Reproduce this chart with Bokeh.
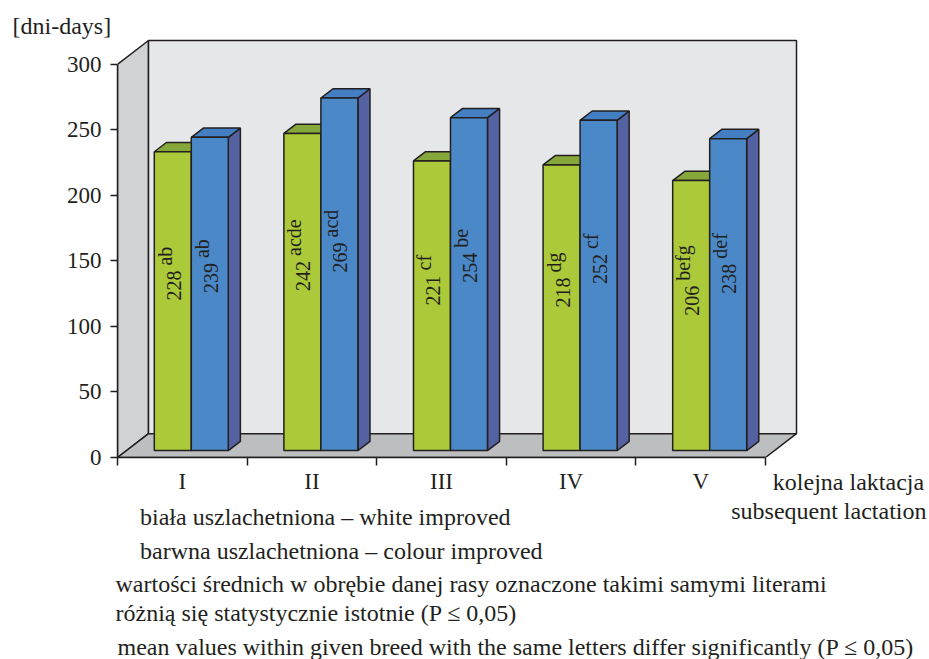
from math import pi
from bokeh.plotting import figure
from bokeh.layouts import column
from bokeh.models import (Range1d, LinearAxis, FixedTicker, ColumnDataSource, Label,
                          Legend, LegendItem)
from bokeh.embed import file_html
from bokeh.resources import INLINE
from bokeh.core.properties import value

# ---------------- data ----------------
lactations = ["I", "II", "III", "IV", "V"]
white_days = [228, 242, 221, 218, 206]
colour_days = [239, 269, 254, 252, 238]
white_letters = ["ab", "acde", "cf", "dg", "befg"]
colour_letters = ["ab", "acd", "be", "cf", "def"]
y_ticks = [0, 50, 100, 150, 200, 250, 300]
series_names = ["biała uszlachetniona – white improved",
                "barwna uszlachetniona – colour improved"]
y_unit_label = "[dni-days]"
x_title = ["kolejna laktacja", "subsequent lactation"]
notes = ["wartości średnich w obrębie danej rasy oznaczone takimi samymi literami",
         "różnią się  statystycznie istotnie (P ≤ 0,05)",
         "mean values within given breed with the same letters differ significantly (P ≤ 0,05)"]

# ---------------- style / layout ----------------
INK = "#231f20"
GREEN, GREEN_TOP = "#abc938", "#86a73a"
BLUE, BLUE_TOP, BLUE_SIDE = "#4a88c8", "#437fc2", "#5462a1"
BACK_WALL, SIDE_WALL, FLOOR = "#e6e7e8", "#d1d2d4", "#bdbec0"
FONT = "Liberation Serif"
FS = "24px"        # texts
FS_TICK = "23px"   # tick labels

W = 929
H1, H2 = 497, 162
LEFT, TOP, BOTTOM, RIGHT = 117, 38, 37, 81
PX_CAT = 129.6      # pixels per category
PX_UNIT = 1.32      # pixels per day
frame_w, frame_h = W - LEFT - RIGHT, H1 - TOP - BOTTOM
n = len(lactations)
y_max = y_ticks[-1]

DX = 31 / PX_CAT     # 3-D depth, x
DY = 24 / PX_UNIT    # 3-D depth, y
F0, F1 = 0.29, 0.68  # bar depth span (fraction of wall depth)
BW = 37 / PX_CAT     # bar width

p = figure(width=W, height=H1, x_range=Range1d(0, frame_w / PX_CAT),
           y_range=Range1d(0, frame_h / PX_UNIT),
           min_border_left=LEFT, min_border_bottom=BOTTOM,
           min_border_right=RIGHT, min_border_top=TOP,
           x_axis_type=None, y_axis_type=None,
           output_backend="svg", toolbar_location=None)
p.outline_line_color = None
p.title.text = y_unit_label
p.title.align = "left"
p.title.offset = 12 - LEFT
p.title.standoff = 0
p.title.vertical_align = "bottom"
p.title.text_font = FONT
p.title.text_font_size = FS
p.title.text_font_style = "normal"
p.title.text_color = INK

# ---------------- walls ----------------
p.patch([0, 0, DX, DX], [0, y_max, y_max + DY, DY],
        fill_color=SIDE_WALL, line_color=INK, line_width=1.5)
p.quad(left=[DX], right=[n + DX], bottom=[DY], top=[y_max + DY],
       fill_color=BACK_WALL, line_color=INK, line_width=1.5)
p.patch([0, DX, n + DX, n], [0, DY, DY, 0],
        fill_color=FLOOR, line_color=INK, line_width=1.5)

# ---------------- bars ----------------
sx0, sy0 = F0 * DX, F0 * DY
ddx, ddy = (F1 - F0) * DX, (F1 - F0) * DY
centers = [i + 0.5 + sx0 for i in range(n)]

g_left = [c - BW for c in centers]
g_right = list(centers)
b_left = list(centers)
b_right = [c + BW for c in centers]
g_top = [v + sy0 for v in white_days]
b_top = [v + sy0 for v in colour_days]

def top_face(l, r, t):
    return [l, r, r + ddx, l + ddx], [t, t, t + ddy, t + ddy]

def side_face(r, t):
    return [r, r + ddx, r + ddx, r], [sy0, sy0 + ddy, t + ddy, t]

gt = [top_face(l, r, t) for l, r, t in zip(g_left, g_right, g_top)]
bt = [top_face(l, r, t) for l, r, t in zip(b_left, b_right, b_top)]
bs = [side_face(r, t) for r, t in zip(b_right, b_top)]

p.patches([a[0] for a in gt], [a[1] for a in gt], fill_color=GREEN_TOP,
          line_color=INK, line_width=1.5)
p.quad(left=g_left, right=g_right, bottom=[sy0] * n, top=g_top,
       fill_color=GREEN, line_color=INK, line_width=1.5)
p.patches([a[0] for a in bs], [a[1] for a in bs], fill_color=BLUE_SIDE,
          line_color=INK, line_width=1.5)
p.patches([a[0] for a in bt], [a[1] for a in bt], fill_color=BLUE_TOP,
          line_color=INK, line_width=1.5)
p.quad(left=b_left, right=b_right, bottom=[sy0] * n, top=b_top,
       fill_color=BLUE, line_color=INK, line_width=1.5)

# ---------------- value labels ----------------
LABEL_FRAC = 0.525
lab = ColumnDataSource(dict(
    x=[(l + r) / 2 for l, r in zip(g_left, g_right)] + [(l + r) / 2 for l, r in zip(b_left, b_right)],
    y=[v * LABEL_FRAC for v in white_days] + [v * LABEL_FRAC for v in colour_days],
    num=[str(v) for v in white_days] + [str(v) for v in colour_days],
    let=white_letters + colour_letters,
))
p.text(x="x", y="y", text="num", source=lab, angle=pi / 2, text_align="left",
       text_baseline="middle", text_font=value(FONT), text_font_size="20px",
       text_color=INK, x_offset=1)
p.text(x="x", y="y", text="let", source=lab, angle=pi / 2, text_align="left",
       text_baseline="middle", text_font=value(FONT), text_font_size="20px",
       text_color=INK, x_offset=-8, y_offset=-35)

# ---------------- axes ----------------
yaxis = LinearAxis(ticker=FixedTicker(ticks=y_ticks), bounds=(0, y_max),
                   axis_line_color=INK, axis_line_width=1.5,
                   major_tick_line_color=INK, major_tick_line_width=1.5,
                   major_tick_out=7, major_tick_in=0, minor_tick_line_color=None,
                   major_label_text_font=FONT, major_label_text_font_size=FS_TICK,
                   major_label_text_color=INK, major_label_standoff=9)
p.add_layout(yaxis, "left")

xaxis = LinearAxis(ticker=FixedTicker(ticks=[i + 0.5 for i in range(n)],
                                      minor_ticks=list(range(n + 1))),
                   bounds=(0, n), axis_line_color=INK, axis_line_width=1.5,
                   major_tick_line_color=None, major_tick_out=8, major_tick_in=0,
                   minor_tick_line_color=INK, minor_tick_line_width=1.5,
                   minor_tick_out=8, minor_tick_in=0,
                   major_label_overrides={i + 0.5: s for i, s in enumerate(lactations)},
                   major_label_text_font=FONT, major_label_text_font_size=FS_TICK,
                   major_label_text_color=INK, major_label_standoff=3,
                   axis_label=x_title[0], axis_label_align="end",
                   axis_label_standoff_mode="axis", axis_label_standoff=11,
                   axis_label_text_font=FONT, axis_label_text_font_size=FS,
                   axis_label_text_font_style="normal", axis_label_text_color=INK)
p.add_layout(xaxis, "below")

# ---------------- lower panel: legend and notes ----------------
BOT = H1 + H2
p2 = figure(width=W, height=H2, x_range=Range1d(0, W), y_range=Range1d(BOT, H1),
            min_border=0, x_axis_type=None, y_axis_type=None,
            output_backend="svg", toolbar_location=None)
p2.outline_line_color = None
if "frame_align" in p2.properties():
    p.frame_align = False
    p2.frame_align = False

def label(x, y, text, align="left"):
    p2.add_layout(Label(x=x, y=y, text=text, text_align=align, text_baseline="middle",
                        text_font=FONT, text_font_size=FS, text_color=INK))

label(926, 510, x_title[1], "right")
label(115, 583, notes[0])
label(115, 612, notes[1])
label(117, 646, notes[2])

lg = p2.quad(left=[], right=[], bottom=[], top=[], fill_color=GREEN,
             line_color="#2d5a27", line_width=1.5)
lb = p2.quad(left=[], right=[], bottom=[], top=[], fill_color=BLUE,
             line_color="#23408a", line_width=1.5)
legend = Legend(items=[LegendItem(label=series_names[0], renderers=[lg]),
                       LegendItem(label=series_names[1], renderers=[lb])],
                location=(114, 94), glyph_width=12, glyph_height=12,
                label_text_font=FONT, label_text_font_size=FS,
                label_text_color=INK, label_standoff=14, spacing=7,
                padding=0, margin=0, border_line_color=None,
                background_fill_alpha=0)
p2.add_layout(legend)

open("out.html", "w").write(file_html(column(p, p2, spacing=0), INLINE))
